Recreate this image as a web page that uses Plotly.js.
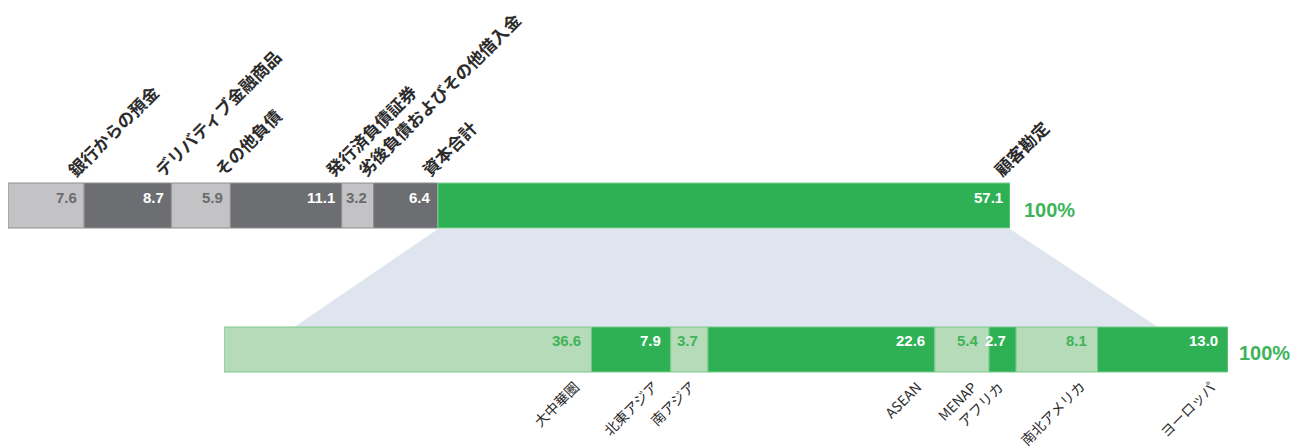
<!DOCTYPE html>
<html><head><meta charset="utf-8">
<script src="https://cdn.plot.ly/plotly-3.0.1.min.js"></script>
<style>html,body{margin:0;padding:0;background:#fff}</style>
</head><body><div id="chart" style="width:1299px;height:448px"></div>
<script>
// ---- data ----
const fundingCategories = ['銀行からの預金','デリバティブ金融商品','その他負債','発行済負債証券','劣後負債およびその他借入金','資本合計','顧客勘定'];
const fundingValues = [7.6, 8.7, 5.9, 11.1, 3.2, 6.4, 57.1];
const regionCategories = ['大中華圏','北東アジア','南アジア','ASEAN','MENAP','アフリカ','南北アメリカ','ヨーロッパ'];
const regionValues = [36.6, 7.9, 3.7, 22.6, 5.4, 2.7, 8.1, 13.0];
const totalLabel = '100%';

// ---- layout constants (pixels) ----
const W = 1299, H = 448;
const TOP = {x0: 8, x1: 1010, y0: 183, y1: 228};
const BOT = {x0: 224, x1: 1228, y0: 327, y1: 372};
const PAD = 2;
const C = {light: '#c3c3c5', dark: '#6d6e71', green: '#2db154', pale: '#b5dbb8',
           lightText: '#6a6b6e', paleText: '#3fb35a', total: '#3db45a', zoom: '#dfe5ef'};
const NUM_FONT = 'Liberation Sans, Arial, sans-serif';
const JP_FONT = 'Noto Sans CJK JP, sans-serif';

function domX(b) { return [b.x0 / W, b.x1 / W]; }
function domY(b) { return [(H - b.y1 - PAD) / H, (H - b.y0 + PAD) / H]; }
function rngY(b) { const h = b.y1 - b.y0; const r = 0.5 * (h + 2 * PAD) / h; return [-r, r]; }
function cumStarts(vals) { const s = []; let c = 0; vals.forEach(v => { s.push(Math.round(c * 10) / 10); c += v; }); return s; }
const endOf = (s, v) => Math.round((s + v) * 10) / 10;

const fStart = cumStarts(fundingValues);
const rStart = cumStarts(regionValues);
const traces = [];
const annotations = [];

fundingValues.forEach((v, i) => {
  const last = i === fundingValues.length - 1;
  const col = last ? C.green : (i % 2 === 0 ? C.light : C.dark);
  const xe = endOf(fStart[i], v);
  traces.push({type: 'bar', orientation: 'h', x: [v], y: [0], base: [fStart[i]], width: [1],
    xaxis: 'x', yaxis: 'y', name: fundingCategories[i], hoverinfo: 'skip',
    marker: {color: col, line: {color: last ? '#7fcf8f' : '#8e8e90', width: 1}}});
  annotations.push({xref: 'x', yref: 'y', x: xe, y: 0.17, xanchor: 'right', yanchor: 'middle',
    xshift: -5, showarrow: false, text: '<b>' + v.toFixed(1) + '</b>',
    font: {family: NUM_FONT, size: 15, color: (!last && i % 2 === 0) ? C.lightText : '#ffffff'}});
  annotations.push({xref: 'x', yref: 'y', x: xe, y: 0.5, xanchor: 'left', yanchor: 'bottom',
    xshift: -25, yshift: -1, textangle: -45, showarrow: false, text: '<b>' + fundingCategories[i] + '</b>',
    font: {family: JP_FONT, size: 17, color: '#2b2b2b'}});
});
annotations.push({xref: 'x', yref: 'y', x: 100, y: -0.1, xanchor: 'left', yanchor: 'middle', xshift: 12,
  showarrow: false, text: '<b>' + totalLabel + '</b>', font: {family: NUM_FONT, size: 20, color: C.total}});

regionValues.forEach((v, i) => {
  const pale = i % 2 === 0;
  const xe = endOf(rStart[i], v);
  traces.push({type: 'bar', orientation: 'h', x: [v], y: [0], base: [rStart[i]], width: [1],
    xaxis: 'x2', yaxis: 'y2', name: regionCategories[i], hoverinfo: 'skip',
    marker: {color: pale ? C.pale : C.green, line: {color: '#7ccb8b', width: 1}}});
  annotations.push({xref: 'x2', yref: 'y2', x: rStart[i] + v > 100 ? 100 : xe, y: 0.19, xanchor: 'right', yanchor: 'middle',
    xshift: -8, showarrow: false, text: '<b>' + v.toFixed(1) + '</b>',
    font: {family: NUM_FONT, size: 15, color: pale ? C.paleText : '#ffffff'}});
  annotations.push({xref: 'x2', yref: 'y2', x: xe, y: -0.5, xanchor: 'right', yanchor: 'top',
    xshift: -6, yshift: -2, textangle: -45, showarrow: false, text: regionCategories[i],
    font: {family: JP_FONT, size: 14, color: '#2b2b2b'}});
});
annotations.push({xref: 'x2', yref: 'y2', x: 100, y: -0.08, xanchor: 'left', yanchor: 'middle', xshift: 9,
  showarrow: false, text: '<b>' + totalLabel + '</b>', font: {family: NUM_FONT, size: 20, color: C.total}});

// zoom trapezoid: from the customer-account segment of the top bar down to the region bar
const tdx = domX(TOP), bdx = domX(BOT);
const px = (d, v) => d[0] + (d[1] - d[0]) * v / 100;
const greenStart = fStart[fStart.length - 1];
const inset = 7;
const yT = (H - TOP.y1 - 1) / H, yB = (H - BOT.y0) / H;
const path = `M ${px(tdx, greenStart)} ${yT} L ${px(tdx, 100)} ${yT} L ${px(bdx, 100 - inset)} ${yB} L ${px(bdx, inset)} ${yB} Z`;

const axBase = {visible: false, fixedrange: true, showgrid: false, zeroline: false};
const layout = {
  width: W, height: H, margin: {l: 0, r: 0, t: 0, b: 0},
  paper_bgcolor: '#ffffff', plot_bgcolor: 'rgba(0,0,0,0)',
  showlegend: false, barmode: 'overlay', bargap: 0,
  xaxis: Object.assign({}, axBase, {domain: domX(TOP), range: [0, 100], anchor: 'y'}),
  yaxis: Object.assign({}, axBase, {domain: domY(TOP), range: rngY(TOP), anchor: 'x'}),
  xaxis2: Object.assign({}, axBase, {domain: domX(BOT), range: [0, 100], anchor: 'y2'}),
  yaxis2: Object.assign({}, axBase, {domain: domY(BOT), range: rngY(BOT), anchor: 'x2'}),
  shapes: [{type: 'path', xref: 'paper', yref: 'paper', path: path, fillcolor: C.zoom, line: {width: 0}, layer: 'below'}],
  annotations: annotations
};
Plotly.newPlot('chart', traces, layout, {displayModeBar: false, staticPlot: true});
</script></body></html>
